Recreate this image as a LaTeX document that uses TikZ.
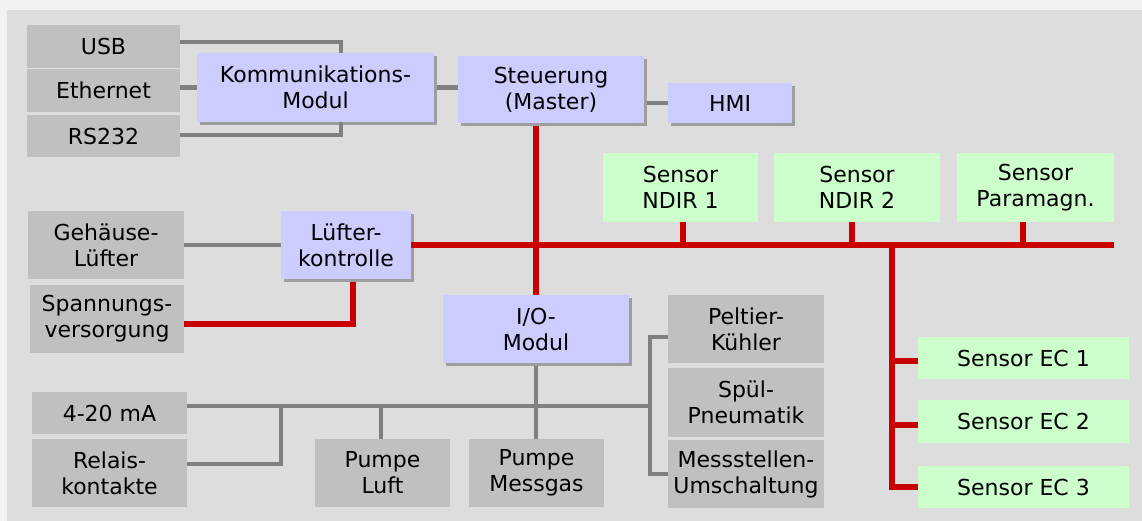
\documentclass[tikz,border=0pt]{standalone}
\usepackage{fontspec}
\setmainfont{DejaVu Sans}
\usetikzlibrary{shadows}
\definecolor{outerbg}{HTML}{F1F2F4}
\definecolor{panelbg}{HTML}{DDDDDD}
\definecolor{boxgray}{HTML}{C0C0C0}
\definecolor{boxblue}{HTML}{CCCCFF}
\definecolor{boxgreen}{HTML}{CCFFCC}
\definecolor{linegray}{HTML}{808080}
\definecolor{linered}{HTML}{C80000}
\tikzset{
  base/.style={inner sep=0pt, align=center, font=\fontsize{22}{26}\selectfont},
  graybox/.style={base, fill=boxgray},
  bluebox/.style={base, fill=boxblue, general shadow={fill=black!38, shadow xshift=3pt, shadow yshift=-3pt}},
  greenbox/.style={base, fill=boxgreen},
  gline/.style={draw=linegray, line width=4.5pt},
  rline/.style={draw=linered, line width=6pt},
}
\begin{document}
\begin{tikzpicture}[x=1pt,y=-1pt]
\fill[outerbg] (0,0) rectangle (1142,521);
\fill[panelbg] (7,10) rectangle (1142,521);
\useasboundingbox (0,0) rectangle (1142,521);

% left communication ports
\node[graybox, minimum width=153pt, minimum height=43pt] (usb) at (103.5,46.5) {USB};
\node[graybox, minimum width=153pt, minimum height=43pt] (eth) at (103.5,90.5) {Ethernet};
\node[graybox, minimum width=153pt, minimum height=42pt] (rs) at (103.5,136) {RS232};

% modules
\node[bluebox, minimum width=237pt, minimum height=69pt] (komm) at (315.5,87.5) {Kommunikations-\\Modul};
\node[bluebox, minimum width=186pt, minimum height=67pt] (steu) at (551,89.5) {Steuerung\\(Master)};
\node[bluebox, minimum width=124pt, minimum height=40pt] (hmi) at (730,103) {HMI};
\node[bluebox, minimum width=130pt, minimum height=68pt] (lue) at (346,245) {Lüfter-\\kontrolle};
\node[bluebox, minimum width=186pt, minimum height=68pt] (io) at (536,329) {I/O-\\Modul};

% sensors
\node[greenbox, minimum width=155pt, minimum height=69pt] (ndir1) at (680.5,187.5) {Sensor\\NDIR 1};
\node[greenbox, minimum width=166pt, minimum height=69pt] (ndir2) at (857,187.5) {Sensor\\NDIR 2};
\node[greenbox, minimum width=157pt, minimum height=69pt] (para) at (1035.5,187.5) {Sensor\\Paramagn.};
\node[greenbox, minimum width=211pt, minimum height=42pt] (ec1) at (1023.5,358) {Sensor EC 1};
\node[greenbox, minimum width=211pt, minimum height=43pt] (ec2) at (1023.5,421.5) {Sensor EC 2};
\node[greenbox, minimum width=211pt, minimum height=42pt] (ec3) at (1023.5,487) {Sensor EC 3};

% gray peripherals
\node[graybox, minimum width=156pt, minimum height=68pt] (geh) at (106,245) {Gehäuse-\\Lüfter};
\node[graybox, minimum width=154pt, minimum height=68pt] (span) at (107,319) {Spannungs-\\versorgung};
\node[graybox, minimum width=155pt, minimum height=42pt] (ma) at (109.5,413) {4-20 mA};
\node[graybox, minimum width=155pt, minimum height=68pt] (rel) at (109.5,473) {Relais-\\kontakte};
\node[graybox, minimum width=135pt, minimum height=68pt] (pl) at (382.5,473) {Pumpe\\Luft};
\node[graybox, minimum width=135pt, minimum height=68pt] (pm) at (536.5,473) {Pumpe\\Messgas};
\node[graybox, minimum width=156pt, minimum height=68pt] (pelt) at (746,329) {Peltier-\\Kühler};
\node[graybox, minimum width=156pt, minimum height=69pt] (spuel) at (746,402.5) {Spül-\\Pneumatik};
\node[graybox, minimum width=156pt, minimum height=68pt] (mst) at (746,474) {Messstellen-\\Umschaltung};

% junction coordinates
\coordinate (busend) at (para.south east |- lue.east);
\coordinate (ecb) at (892,245);
\coordinate (gv) at (650,406);
\coordinate (rj) at (281,406);

% gray connectors
\draw[gline] ([yshift=4.5pt]usb.east) -| ([xshift=144pt]komm.north west);
\draw[gline] (komm.west -| eth.east) -- (komm.west);
\draw[gline] ([yshift=1pt]rs.east) -| ([xshift=144pt]komm.south west);
\draw[gline] ([xshift=3pt]komm.east) -- (komm.east -| steu.west);
\draw[gline] ([xshift=3pt]hmi.west -| steu.east) -- (hmi.west);
\draw[gline] (geh.east) -- (lue.west);
\draw[gline] ([yshift=7pt]ma.east) -- (gv);
\draw[gline] ([yshift=9pt]rel.east) -| (rj);
\draw[gline] ([xshift=-1.5pt]pl.north) -- ([xshift=-1.5pt]pl.north |- gv);
\draw[gline] ([yshift=-3pt]io.south) -- (pm.north -| io.south);
\draw[gline] ([yshift=-8pt]pelt.west) -| (mst.west -| gv) -- (mst.west);

% red connectors
\draw[rline] ([yshift=-3pt]steu.south -| io.north) -- (io.north);
\draw[rline] (lue.east) -- (busend);
\draw[rline] ([xshift=2.5pt]ndir1.south) -- ([xshift=2.5pt]ndir1.south |- busend);
\draw[rline] ([xshift=-5pt]ndir2.south) -- ([xshift=-5pt]ndir2.south |- busend);
\draw[rline] ([xshift=-12.5pt]para.south) -- ([xshift=-12.5pt]para.south |- busend);
\draw[rline] ([yshift=-5pt]span.east) -| ([xshift=7pt,yshift=-3pt]lue.south);
\draw[rline] (ecb) |- (ec3.west);
\draw[rline] ([yshift=-3pt]ec1.west -| ecb) -- ([yshift=-3pt]ec1.west);
\draw[rline] ([yshift=-3.5pt]ec2.west -| ecb) -- ([yshift=-3.5pt]ec2.west);
\end{tikzpicture}
\end{document}
